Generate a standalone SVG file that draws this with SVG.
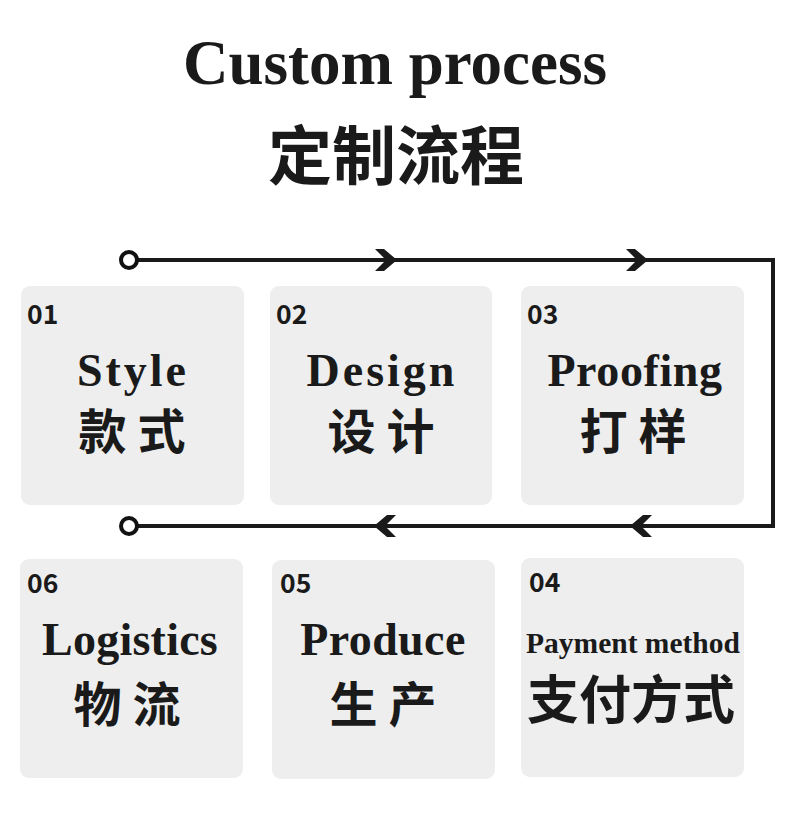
<svg xmlns="http://www.w3.org/2000/svg" width="790" height="839" viewBox="0 0 790 839">
<defs>
<style>
.box{fill:#eeeeee}
.num{font-family:"Noto Sans CJK SC","Noto Sans",sans-serif;font-weight:bold;font-size:26.5px;fill:#1a1a1a}
.en{font-family:"Liberation Serif",serif;font-weight:bold;font-size:46px;fill:#1a1a1a;text-anchor:middle}
.cn{font-family:"Noto Sans CJK SC",sans-serif;font-weight:bold;font-size:48px;fill:#1a1a1a;text-anchor:middle}
.line{fill:none;stroke:#1a1a1a;stroke-width:4}
.dot{fill:#fff;stroke:#111;stroke-width:4}
.chev{fill:#1a1a1a}
</style>
</defs>
<rect width="790" height="839" fill="#fff"/>
<text x="395" y="84" text-anchor="middle" font-family="Liberation Serif,serif" font-weight="bold" font-size="63" fill="#1a1a1a">Custom process</text>
<text x="396" y="179" text-anchor="middle" font-family="Noto Sans CJK SC,sans-serif" font-weight="bold" font-size="64" fill="#1a1a1a">定制流程</text>
<g id="connectors">
<path class="line" d="M137 260 H773 V526 H137"/>
<circle class="dot" cx="129" cy="260" r="8"/>
<circle class="dot" cx="129" cy="526" r="8"/>
<polygon class="chev" points="375,249 384,249 397,260 384,271 375,271 386,260"/>
<polygon class="chev" points="626,249 635,249 648,260 635,271 626,271 637,260"/>
<polygon class="chev" points="396,515 387,515 374,526 387,537 396,537 385,526"/>
<polygon class="chev" points="652,515 643,515 630,526 643,537 652,537 641,526"/>
</g>
<g id="node1"><rect class="box" x="21" y="286" width="223" height="219" rx="9"/><text class="num" x="27" y="324">01</text><text class="en" x="133" y="386" letter-spacing="3">Style</text><text class="cn" x="132" y="449">款 式</text></g>
<g id="node2"><rect class="box" x="270" y="286" width="222" height="219" rx="9"/><text class="num" x="276" y="324">02</text><text class="en" x="382" y="386" letter-spacing="3">Design</text><text class="cn" x="381" y="449">设 计</text></g>
<g id="node3"><rect class="box" x="521" y="286" width="223" height="219" rx="9"/><text class="num" x="527" y="324">03</text><text class="en" x="635" y="386" letter-spacing="0.6">Proofing</text><text class="cn" x="633" y="449">打 样</text></g>
<g id="node4"><rect class="box" x="521" y="558" width="223" height="219" rx="9"/><text class="num" x="529" y="592">04</text><text class="en" x="633" y="653" style="font-size:29.5px">Payment method</text><text class="cn" x="631" y="719" style="font-size:52px">支付方式</text></g>
<g id="node5"><rect class="box" x="272" y="560" width="223" height="219" rx="9"/><text class="num" x="280" y="593">05</text><text class="en" x="383" y="655" letter-spacing="0.4">Produce</text><text class="cn" x="383" y="722">生 产</text></g>
<g id="node6"><rect class="box" x="20" y="559" width="223" height="219" rx="9"/><text class="num" x="27" y="593">06</text><text class="en" x="130" y="655" letter-spacing="0.25">Logistics</text><text class="cn" x="127" y="722">物 流</text></g>
</svg>
